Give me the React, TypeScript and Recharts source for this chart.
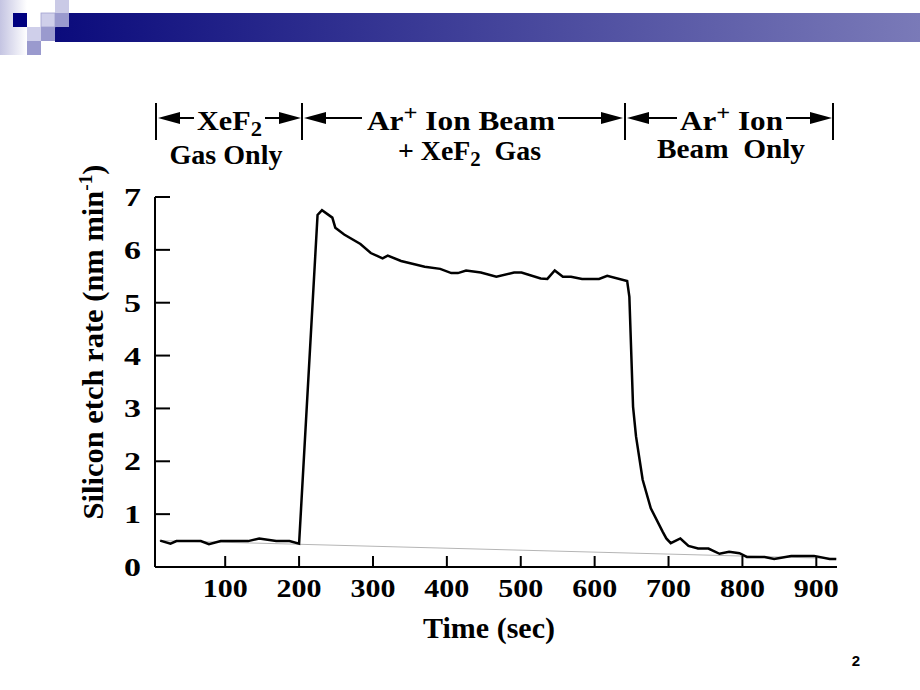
import React from 'react';
import { LineChart, Line, XAxis, YAxis, ReferenceLine } from 'recharts';

// time (sec) and silicon etch rate (nm/min)
const times = [
  12, 26, 34, 67, 78, 94, 131, 146, 169, 187, 200, 225, 231, 245, 249, 261, 283, 297, 313, 320,
  338, 370, 391, 406, 415, 426, 446, 467, 491, 501, 527, 536, 546, 557, 568, 583, 606, 617, 644,
  647, 652, 656, 665, 676, 692, 697, 703, 716, 727, 740, 754, 769, 782, 796, 806, 830, 843, 866,
  897, 918, 927,
];
const rates = [
  0.5, 0.44, 0.49, 0.49, 0.43, 0.49, 0.49, 0.54, 0.49, 0.49, 0.44, 6.66, 6.75, 6.61, 6.42, 6.29,
  6.11, 5.94, 5.84, 5.89, 5.79, 5.68, 5.64, 5.56, 5.56, 5.61, 5.57, 5.49, 5.57, 5.57, 5.46, 5.45,
  5.61, 5.49, 5.49, 5.45, 5.45, 5.51, 5.41, 5.11, 3.03, 2.47, 1.65, 1.11, 0.67, 0.54, 0.45, 0.54,
  0.4, 0.35, 0.35, 0.25, 0.29, 0.26, 0.19, 0.19, 0.15, 0.21, 0.21, 0.15, 0.15,
];
const xTicks = [100, 200, 300, 400, 500, 600, 700, 800, 900];
const yTicks = [0, 1, 2, 3, 4, 5, 6, 7];
// faint baseline drawn across the plot in the scan
const baseline = [
  { x: 11, y: 0.5 },
  { x: 927, y: 0.16 },
];

const data = times.map((t, i) => ({ t, rate: rates[i] }));

const serif = '"Liberation Serif", "Times New Roman", serif';

const XTick = (props: any) => {
  const { x, y, payload } = props;
  const s = String(payload.value);
  return (
    <text x={x} y={y} textAnchor="middle" fontFamily={serif} fontWeight="bold" fontSize={25}
      fill="#000" textLength={s.length * 15} lengthAdjust="spacingAndGlyphs">{s}</text>
  );
};

const YTick = (props: any) => {
  const { x, y, payload } = props;
  const s = String(payload.value);
  return (
    <text x={x} y={y + 9} textAnchor="end" fontFamily={serif} fontWeight="bold" fontSize={26}
      fill="#000" textLength={17} lengthAdjust="spacingAndGlyphs">{s}</text>
  );
};

const arrow = (tipX: number, dir: 1 | -1) => {
  const y = 118;
  const base = tipX + dir * 22;
  return <polygon points={`${tipX},${y} ${base},${y - 6} ${base},${y + 6}`} fill="#000" />;
};

const Header = () => (
  <g fontFamily={serif} fontWeight="bold" fontSize={28} fill="#000">
    {[156, 302, 625, 833].map((x) => (
      <line key={x} x1={x} x2={x} y1={103} y2={140} stroke="#000" strokeWidth={2} />
    ))}
    {/* XeF2 gas only */}
    {arrow(158, 1)}
    <line x1={178} x2={194} y1={118} y2={118} stroke="#000" strokeWidth={2} />
    <text x={197} y={130} textLength={65} lengthAdjust="spacingAndGlyphs">
      XeF<tspan dy={6} fontSize={21}>2</tspan>
    </text>
    <line x1={265} x2={280} y1={118} y2={118} stroke="#000" strokeWidth={2} />
    {arrow(301, -1)}
    <text x={226} y={164} textAnchor="middle" textLength={113} lengthAdjust="spacingAndGlyphs">Gas Only</text>

    {/* Ar+ beam + XeF2 */}
    {arrow(304, 1)}
    <line x1={326} x2={362} y1={118} y2={118} stroke="#000" strokeWidth={2} />
    <text x={367} y={130} textLength={188} lengthAdjust="spacingAndGlyphs">
      Ar<tspan dy={-10} fontSize={22}>+</tspan><tspan dy={10}> Ion Beam</tspan>
    </text>
    <line x1={558} x2={601} y1={118} y2={118} stroke="#000" strokeWidth={2} />
    {arrow(623, -1)}
    <text x={398} y={160} textLength={143} lengthAdjust="spacingAndGlyphs">
      + XeF<tspan dy={6} fontSize={21}>2</tspan><tspan dy={-6}>{'\u00a0 Gas'}</tspan>
    </text>

    {/* Ar+ beam only */}
    {arrow(627, 1)}
    <line x1={649} x2={677} y1={118} y2={118} stroke="#000" strokeWidth={2} />
    <text x={680} y={130} textLength={103} lengthAdjust="spacingAndGlyphs">
      Ar<tspan dy={-10} fontSize={22}>+</tspan><tspan dy={10}> Ion</tspan>
    </text>
    <line x1={786} x2={810} y1={118} y2={118} stroke="#000" strokeWidth={2} />
    {arrow(832, -1)}
    <text x={657} y={158} textLength={148} lengthAdjust="spacingAndGlyphs">{'Beam\u00a0 Only'}</text>
  </g>
);

const SlideDecor = () => (
  <g>
    <defs>
      <linearGradient id="band" x1="0" x2="1" y1="0" y2="0">
        <stop offset="0%" stopColor="#0b0b7c" />
        <stop offset="100%" stopColor="#7a7ab8" />
      </linearGradient>
      <linearGradient id="fade" x1="0" x2="1" y1="0" y2="0">
        <stop offset="0%" stopColor="#c4c4e2" />
        <stop offset="100%" stopColor="#ffffff" />
      </linearGradient>
    </defs>
    <rect x={0} y={0} width={27} height={55} fill="url(#fade)" />
    <rect x={55} y={13} width={865} height={29} fill="url(#band)" />
    <rect x={13} y={13} width={14} height={14} fill="#000080" />
    <rect x={55} y={0} width={14} height={13} fill="#cacae6" />
    <rect x={41} y={13} width={14} height={14} fill="#cfcfea" stroke="#a0a0d0" strokeWidth={0.8} />
    <rect x={55} y={13} width={14} height={14} fill="#9a9ace" />
    <rect x={27} y={27} width={14} height={14} fill="#cfcfea" />
    <rect x={41} y={27} width={14} height={14} fill="#9a9ace" />
    <rect x={27} y={41} width={14} height={14} fill="#9a9ace" />
  </g>
);

export default function App() {
  return (
    <div style={{ position: 'absolute', left: 0, top: 0, width: 920, height: 690, background: '#fff' }}>
      <LineChart width={920} height={690} data={data} margin={{ top: 197, right: 83, bottom: 83, left: 95 }}>
        <XAxis
          dataKey="t"
          type="number"
          domain={[5, 928]}
          ticks={xTicks}
          height={40}
          axisLine={{ stroke: '#000', strokeWidth: 2 }}
          tickLine={{ stroke: '#000', strokeWidth: 2 }}
          tickSize={-11}
          tickMargin={41}
          tick={<XTick />}
        />
        <YAxis
          type="number"
          domain={[0, 7]}
          ticks={yTicks}
          width={60}
          axisLine={{ stroke: '#000', strokeWidth: 2 }}
          tickLine={{ stroke: '#000', strokeWidth: 2 }}
          tickSize={-15}
          tickMargin={29}
          tick={<YTick />}
        />
        <ReferenceLine segment={baseline} stroke="#b5b5b5" strokeWidth={1} />
        <Line
          type="linear"
          dataKey="rate"
          stroke="#000"
          strokeWidth={2.5}
          dot={false}
          isAnimationActive={false}
        />
      </LineChart>
      <svg width={920} height={690} style={{ position: 'absolute', left: 0, top: 0, pointerEvents: 'none' }}>
        <SlideDecor />
        <Header />
        <text x={103} y={342} transform="rotate(-90 103 342)" textAnchor="middle" fontFamily={serif}
          fontWeight="bold" fontSize={30} fill="#000" textLength={355} lengthAdjust="spacingAndGlyphs">
          Silicon etch rate (nm min<tspan dy={-11} fontSize={19}>-1</tspan><tspan dy={11}>)</tspan>
        </text>
        <text x={489} y={638} textAnchor="middle" fontFamily={serif} fontWeight="bold" fontSize={30}
          fill="#000">Time (sec)</text>
        <text x={856} y={666} textAnchor="middle" fontFamily='"Liberation Sans", Arial, sans-serif'
          fontWeight="bold" fontSize={15} fill="#000">2</text>
      </svg>
    </div>
  );
}
